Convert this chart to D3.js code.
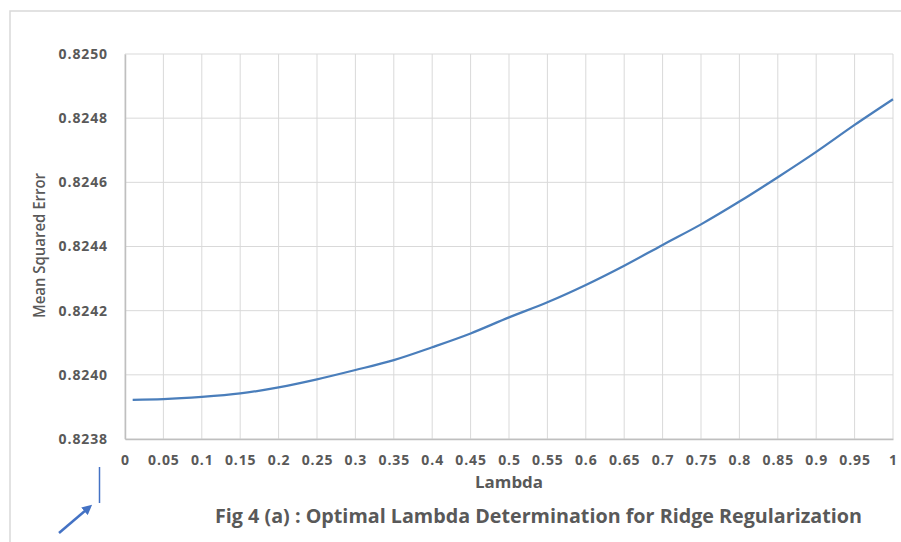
<!DOCTYPE html>
<head>
  <meta charset="utf-8">
  <script src="https://d3js.org/d3.v7.min.js"></script>
</head>
<body>
  <div id="chart"></div>

  <script>
    var width = 901;
    var height = 542;

    // lambda values
    var lambdas = [0.01, 0.05, 0.1, 0.15, 0.2, 0.25, 0.3, 0.35, 0.4, 0.45, 0.5,
                   0.55, 0.6, 0.65, 0.7, 0.75, 0.8, 0.85, 0.9, 0.95, 1];
    var mse = [0.823922, 0.823924, 0.823931, 0.823942, 0.823961, 0.823986, 0.824015,
               0.824046, 0.824086, 0.824129, 0.824179, 0.824226, 0.824280, 0.824340,
               0.824405, 0.824469, 0.824540, 0.824616, 0.824695, 0.824779, 0.824859];

    var xTicks = [0, 0.05, 0.1, 0.15, 0.2, 0.25, 0.3, 0.35, 0.4, 0.45, 0.5,
                  0.55, 0.6, 0.65, 0.7, 0.75, 0.8, 0.85, 0.9, 0.95, 1];
    var yTicks = [0.8238, 0.8240, 0.8242, 0.8244, 0.8246, 0.8248, 0.8250];

    var margin = {top: 54, right: 8, bottom: 103, left: 125};
    var font = "'Open Sans', sans-serif";
    var grey = '#595959';

    var svg = d3.select('#chart')
      .append('svg')
        .attr('width', width)
        .attr('height', height);

    // frame around the chart
    svg.append('path')
      .attr('d', 'M10,' + height + 'V11H' + width)
      .attr('fill', 'none')
      .attr('stroke', '#d9d9d9')
      .attr('stroke-width', 1.5);

    var x = d3.scaleLinear().domain([0, 1]).range([margin.left, width - margin.right]);
    var y = d3.scaleLinear().domain([0.8238, 0.8250]).range([height - margin.bottom, margin.top]);

    // grid
    svg.append('g')
      .selectAll('line')
      .data(yTicks)
      .join('line')
        .attr('x1', x(0)).attr('x2', x(1))
        .attr('y1', d => y(d)).attr('y2', d => y(d))
        .attr('stroke', '#d9d9d9')
        .attr('stroke-width', 1);

    svg.append('g')
      .selectAll('line')
      .data(xTicks)
      .join('line')
        .attr('x1', d => x(d)).attr('x2', d => x(d))
        .attr('y1', y(0.8238)).attr('y2', y(0.8250))
        .attr('stroke', '#d9d9d9')
        .attr('stroke-width', 1);

    // axes
    var yAxis = svg.append('g')
      .attr('transform', 'translate(' + margin.left + ',0)')
      .call(d3.axisLeft(y).tickValues(yTicks).tickFormat(d3.format('.4f')).tickSize(0).tickPadding(17));
    var xAxis = svg.append('g')
      .attr('transform', 'translate(0,' + y(0.8238) + ')')
      .call(d3.axisBottom(x).tickValues(xTicks).tickFormat(d => String(d)).tickSize(0).tickPadding(16));

    [xAxis, yAxis].forEach(function(a) {
      a.select('.domain').attr('stroke', '#bfbfbf').attr('stroke-width', 1.5);
      a.selectAll('text')
        .attr('fill', grey)
        .style('font-family', font)
        .style('font-weight', 'bold')
        .style('font-size', '14px')
        .style('letter-spacing', '0.9px');
    });

    // the curve
    var line = d3.line()
      .x((d, i) => x(lambdas[i]))
      .y(d => y(d))
      .curve(d3.curveMonotoneX);

    svg.append('path')
      .datum(mse)
      .attr('fill', 'none')
      .attr('stroke', '#4a7ebb')
      .attr('stroke-width', 2.25)
      .attr('d', line);

    // titles (textLength keeps them the width they have in the figure)
    svg.append('text')
      .attr('x', x(0.5)).attr('y', 488)
      .attr('text-anchor', 'middle')
      .attr('fill', grey)
      .attr('textLength', 68)
      .attr('lengthAdjust', 'spacingAndGlyphs')
      .style('font-family', font)
      .style('font-weight', 'bold')
      .style('font-size', '16px')
      .text('Lambda');

    svg.append('text')
      .attr('transform', 'translate(45,245.5) rotate(-90)')
      .attr('text-anchor', 'middle')
      .attr('fill', grey)
      .attr('textLength', 145)
      .attr('lengthAdjust', 'spacingAndGlyphs')
      .style('font-family', font)
      .style('font-weight', '600')
      .style('font-size', '16px')
      .text('Mean Squared Error');

    svg.append('text')
      .attr('x', 538.5).attr('y', 523)
      .attr('text-anchor', 'middle')
      .attr('fill', grey)
      .attr('textLength', 647)
      .attr('lengthAdjust', 'spacingAndGlyphs')
      .style('font-family', font)
      .style('font-weight', 'bold')
      .style('font-size', '19.5px')
      .text('Fig 4 (a) : Optimal Lambda Determination for Ridge Regularization');

    // little marker in the corner
    svg.append('defs').append('marker')
      .attr('id', 'head')
      .attr('viewBox', '0 0 10 10')
      .attr('refX', 2).attr('refY', 5)
      .attr('markerWidth', 4).attr('markerHeight', 4)
      .attr('orient', 'auto')
      .append('path')
        .attr('d', 'M0,0L10,5L0,10Z')
        .attr('fill', '#4472c4');

    svg.append('line')
      .attr('x1', 99.5).attr('x2', 99.5)
      .attr('y1', 467).attr('y2', 503)
      .attr('stroke', '#4472c4')
      .attr('stroke-width', 1.5);

    svg.append('line')
      .attr('x1', 59).attr('y1', 533)
      .attr('x2', 86).attr('y2', 510)
      .attr('stroke', '#4472c4')
      .attr('stroke-width', 2.5)
      .attr('marker-end', 'url(#head)');
  </script>
</body>

<style>
  body {
    margin: 0;
    background-color: #ffffff;
  }
  #chart {
    width: 901px;
    height: 542px;
  }
</style>
